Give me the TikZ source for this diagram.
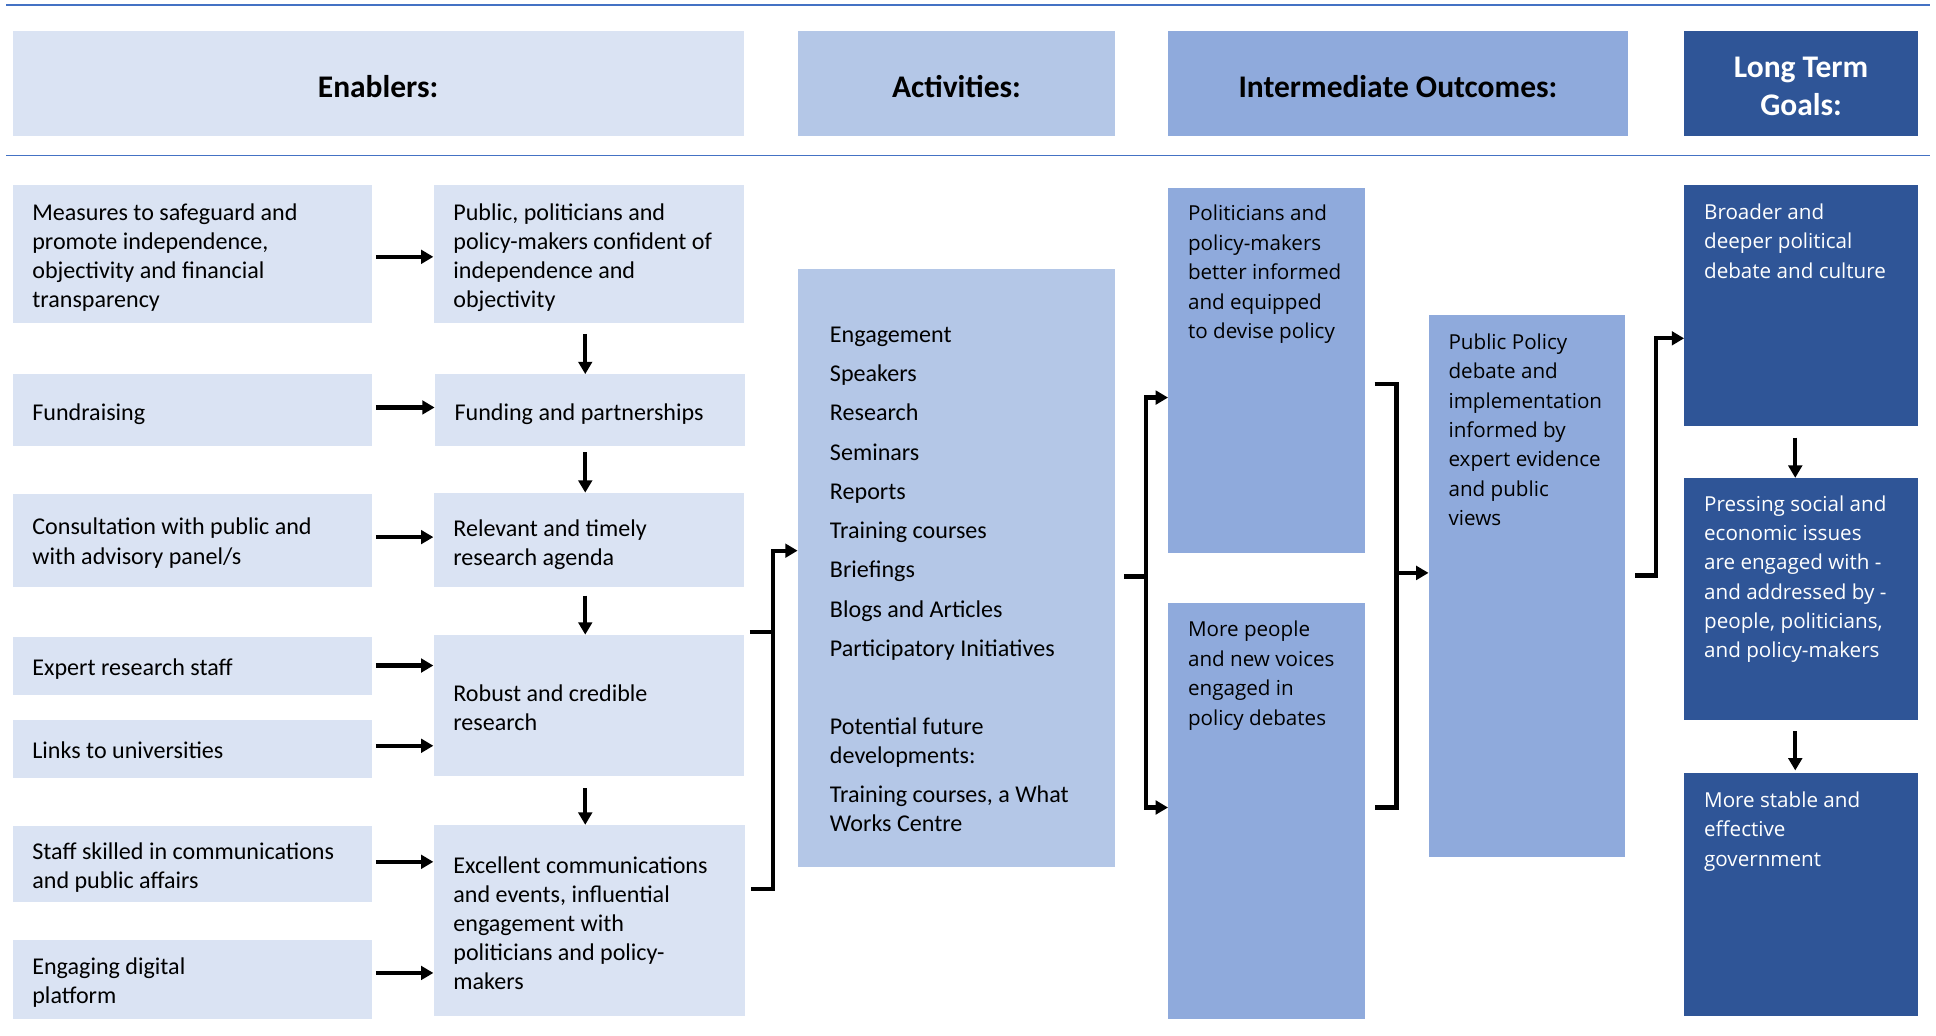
\documentclass[tikz,border=0pt]{standalone}
\usepackage{fontspec}
\setmainfont{Carlito}
\newfontfamily\opensans{Open Sans}
\usetikzlibrary{arrows.meta,calc}
\definecolor{pale}{HTML}{DAE3F3}
\definecolor{mid}{HTML}{B4C7E7}
\definecolor{deep}{HTML}{8FAADC}
\definecolor{navy}{HTML}{2F5597}
\definecolor{rulecol}{HTML}{4472C4}
\begin{document}
\begin{tikzpicture}[x=1pt,y=-1pt,
  panel/.style={anchor=north west,inner sep=0pt,draw=none},
  head/.style={panel,font=\fontsize{25.5}{31}\selectfont\bfseries,align=center,text depth=0pt},
  ltxt/.style={anchor=north west,inner sep=0pt,align=left,yshift=-2.5pt,font=\fontsize{19.5}{23.6}\selectfont},
  rtxt/.style={anchor=north west,inner sep=0pt,align=left,yshift=-2pt,font=\opensans\fontsize{16.7}{23.8}\selectfont},
  arr/.style={line width=3.5pt,-{Triangle[length=10pt,width=11pt]}},
  bar/.style={line width=3.5pt,line join=miter},
  sep/.style={draw=rulecol,line width=1.3pt}]
\useasboundingbox (0,0) rectangle (1568,839);

% separator rules
\draw[sep] (5,4) -- (1563,4);
\draw[sep] (5,126) -- (1563,126);

% column headings
\node[panel,fill=pale,minimum width=592,minimum height=85] (h1) at (10,25) {};
\node[panel,fill=mid,minimum width=257,minimum height=85] (h2) at (646,25) {};
\node[panel,fill=deep,minimum width=372,minimum height=85] (h3) at (946,25) {};
\node[panel,fill=navy,minimum width=189,minimum height=85] (h4) at (1364,25) {};
\node[head,anchor=center] (h1t) at ([yshift=-2pt]h1.center) {Enablers:};
\node[head,anchor=center] (h2t) at ([yshift=-2pt]h2.center) {Activities:};
\node[head,anchor=center] (h3t) at ([yshift=-2pt]h3.center) {Intermediate Outcomes:};
\node[head,anchor=center,text=white] (h4t) at ([yshift=-2pt]h4.center) {Long Term\\Goals:};

% enablers, first column
\node[panel,fill=pale,minimum width=291,minimum height=111] (m1) at (10,150) {};
\node[panel,fill=pale,minimum width=291,minimum height=58] (m2) at (10,303) {};
\node[panel,fill=pale,minimum width=291,minimum height=75] (m3) at (10,400) {};
\node[panel,fill=pale,minimum width=291,minimum height=47] (m4) at (10,516) {};
\node[panel,fill=pale,minimum width=291,minimum height=47] (m5) at (10,583) {};
\node[panel,fill=pale,minimum width=291,minimum height=61] (m6) at (10,669) {};
\node[panel,fill=pale,minimum width=291,minimum height=64] (m7) at (10,761) {};
\node[ltxt] (m1t) at (26,159) {\strut Measures to safeguard and\\promote independence,\\objectivity and financial\\transparency};
\node[ltxt] (m2t) at (26,321) {\strut Fundraising};
\node[ltxt] (m3t) at (26,414) {\strut Consultation with public and\\with advisory panel/s};
\node[ltxt] (m4t) at (26,528) {\strut Expert research staff};
\node[ltxt] (m5t) at (26,595) {\strut Links to universities};
\node[ltxt] (m6t) at (26,677) {\strut Staff skilled in communications\\and public affairs};
\node[ltxt] (m7t) at (26,770) {\strut Engaging digital\\platform};

% enablers, second column
\node[panel,fill=pale,minimum width=251,minimum height=111] (a1) at (351,150) {};
\node[panel,fill=pale,minimum width=251,minimum height=58] (a2) at (352,303) {};
\node[panel,fill=pale,minimum width=251,minimum height=76] (a3) at (351,399) {};
\node[panel,fill=pale,minimum width=251,minimum height=114] (a4) at (351,514) {};
\node[panel,fill=pale,minimum width=252,minimum height=155] (a5) at (351,668) {};
\node[ltxt] (a1t) at (367,159) {\strut Public, politicians and\\policy-makers confident of\\independence and\\objectivity};
\node[ltxt] (a2t) at (368,321) {\strut Funding and partnerships};
\node[ltxt] (a3t) at (367,415) {\strut Relevant and timely\\research agenda};
\node[ltxt] (a4t) at (367,549) {\strut Robust and credible\\research};
\node[ltxt] (a5t) at (367,688) {\strut Excellent communications\\and events, influential\\engagement with\\politicians and policy-\\makers};

% activities
\node[panel,fill=mid,minimum width=257,minimum height=484] (act) at (646,218) {};
\node[ltxt] (actt) at (672,258) {\strut Engagement\\[8.2pt]Speakers\\[8.2pt]Research\\[8.2pt]Seminars\\[8.2pt]Reports\\[8.2pt]Training courses\\[8.2pt]Briefings\\[8.2pt]Blogs and Articles\\[8.2pt]Participatory Initiatives\\[39.4pt]Potential future\\developments:\\[8.4pt]Training courses, a What\\Works Centre};

% intermediate outcomes
\node[panel,fill=deep,minimum width=159,minimum height=296] (p1) at (946,152) {};
\node[panel,fill=deep,minimum width=159,minimum height=337] (p2) at (946,488) {};
\node[panel,fill=deep,minimum width=159,minimum height=439] (pp) at (1157,255) {};
\node[rtxt] (p1t) at (962,160) {\strut Politicians and\\policy-makers\\better informed\\and equipped\\to devise policy};
\node[rtxt] (p2t) at (962,497) {\strut More people\\and new voices\\engaged in\\policy debates};
\node[rtxt] (ppt) at (1173,264) {\strut Public Policy\\debate and\\implementation\\informed by\\expert evidence\\and public\\views};

% long term goals
\node[panel,fill=navy,minimum width=189,minimum height=195] (g1) at (1364,150) {};
\node[panel,fill=navy,minimum width=189,minimum height=196] (g2) at (1364,387) {};
\node[panel,fill=navy,minimum width=189,minimum height=197] (g3) at (1364,626) {};
\node[rtxt,text=white] (g1t) at (1380,159) {\strut Broader and\\deeper political\\debate and culture};
\node[rtxt,text=white] (g2t) at (1380,395) {\strut Pressing social and\\economic issues\\are engaged with -\\and addressed by -\\people, politicians,\\and policy-makers};
\node[rtxt,text=white] (g3t) at (1380,635) {\strut More stable and\\effective\\government};

% junction columns of the brackets
\coordinate (j1) at (626,0);
\coordinate (j2) at (928,0);
\coordinate (j3) at (1131,0);
\coordinate (j4) at (1341,0);

% enablers feeding one another
\draw[arr,shorten <=3pt] (m1.east |- 0,208) -- (a1.west |- 0,208);
\draw[arr,shorten <=3pt] (m2.east |- 0,330) -- (a2.west |- 0,330);
\draw[arr,shorten <=3pt] (m3.east |- 0,435) -- (a3.west |- 0,435);
\draw[arr,shorten <=3pt] (m4.east |- 0,539) -- (a4.west |- 0,539);
\draw[arr,shorten <=3pt] (m5.east |- 0,604) -- (a4.west |- 0,604);
\draw[arr,shorten <=3pt] (m6.east |- 0,698) -- (a5.west |- 0,698);
\draw[arr,shorten <=3pt] (m7.east |- 0,788) -- (a5.west |- 0,788);
\draw[arr,shorten <=9pt] (a1.south -| 474,0) -- (a2.north -| 474,0);
\draw[arr,shorten <=5pt] (a2.south -| 474,0) -- (a3.north -| 474,0);
\draw[arr,shorten <=7pt] (a3.south -| 474,0) -- (a4.north -| 474,0);
\draw[arr,shorten <=10pt] (a4.south -| 474,0) -- (a5.north -| 474,0);

% enablers into activities
\draw[bar] ($(a4.east |- 0,512)+(5,0)$) -- (j1 |- 0,512);
\draw[arr] ($(a5.east |- 0,720)+(5,0)$) -- (j1 |- 0,720) -- (j1 |- 0,446) -- (act.west |- 0,446);

% activities into intermediate outcomes
\draw[bar] ($(act.east |- 0,467)+(7,0)$) -- (j2 |- 0,467);
\draw[arr] (j2 |- 0,467) -- (j2 |- 0,322) -- (p1.west |- 0,322);
\draw[arr] (j2 |- 0,467) -- (j2 |- 0,654) -- (p2.west |- 0,654);

% intermediate outcomes combined
\draw[bar] ($(p1.east |- 0,311)+(8,0)$) -- (j3 |- 0,311) -- (j3 |- 0,654) -- ($(p2.east |- 0,654)+(8,0)$);
\draw[arr] (j3 |- 0,464) -- (pp.west |- 0,464);

% into long term goals
\draw[arr] ($(pp.east |- 0,466)+(8,0)$) -- (j4 |- 0,466) -- (j4 |- 0,274) -- (g1.west |- 0,274);
\draw[arr,shorten <=9pt] (g1.south -| 1454,0) -- (g2.north -| 1454,0);
\draw[arr,shorten <=9pt] (g2.south -| 1454,0) -- ($(g3.north -| 1454,0)+(0,-2)$);
\end{tikzpicture}
\end{document}
